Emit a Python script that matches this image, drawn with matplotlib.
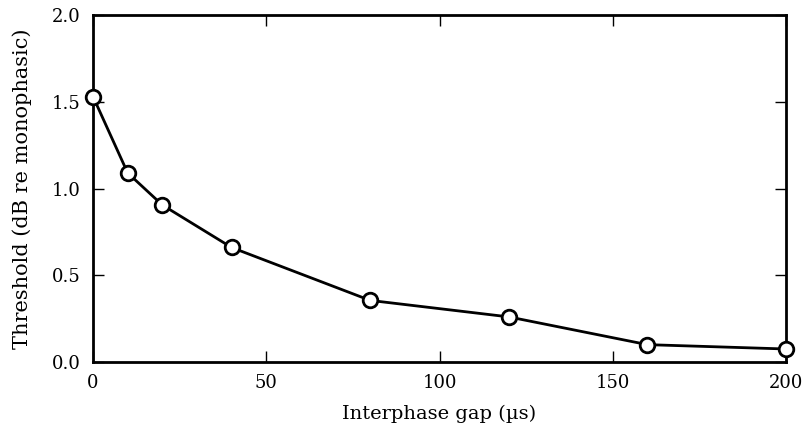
import matplotlib
matplotlib.use('Agg')
import matplotlib.pyplot as plt

# Threshold vs interphase gap
gap_us = [0, 10, 20, 40, 80, 120, 160, 200]
threshold_db = [1.53, 1.09, 0.905, 0.66, 0.355, 0.26, 0.10, 0.075]

plt.rcParams['font.family'] = 'DejaVu Serif'

fig = plt.figure(figsize=(8.05, 4.33), dpi=100)
ax = fig.add_axes([93 / 805, 1 - 362 / 433, 693 / 805, 347 / 433])

ax.plot(gap_us, threshold_db, color='black', linewidth=2, marker='o',
        markersize=10.5, markerfacecolor='white', markeredgecolor='black',
        markeredgewidth=2, clip_on=False, zorder=3)

ax.set_xlim(0, 200)
ax.set_ylim(0, 2.0)
ax.set_xticks([0, 50, 100, 150, 200])
ax.set_yticks([0.0, 0.5, 1.0, 1.5, 2.0])
ax.set_yticklabels(['0.0', '0.5', '1.0', '1.5', '2.0'])
ax.tick_params(direction='in', top=True, right=True, length=8, width=1,
               labelsize=13, pad=9)
for s in ax.spines.values():
    s.set_linewidth(2)

ax.set_xlabel('Interphase gap (µs)', fontsize=14, labelpad=9)
ax.set_ylabel('Threshold (dB re monophasic)', fontsize=15, labelpad=14)

fig.savefig('out.png', dpi=100)
